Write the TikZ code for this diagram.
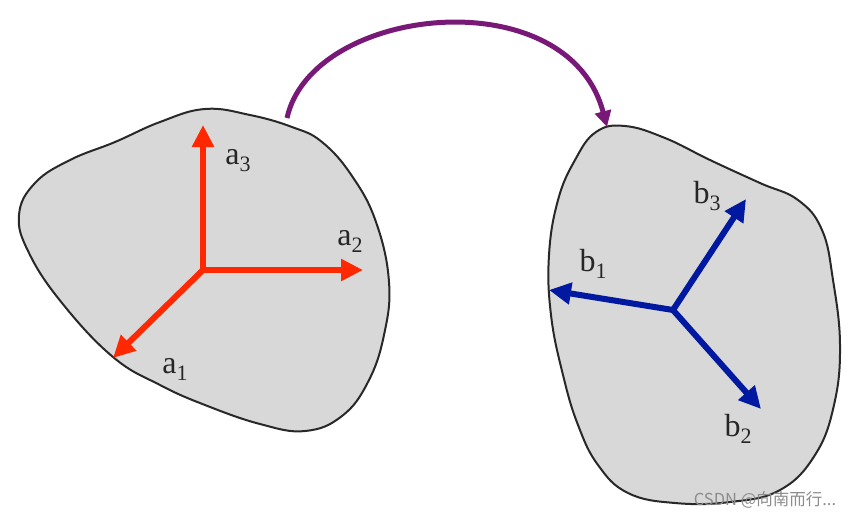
\documentclass[tikz,border=0pt]{standalone}
\usepackage{fontspec}
\setmainfont{Liberation Serif}
\newfontfamily\cjk{Noto Sans CJK SC}
\usetikzlibrary{arrows.meta}
\definecolor{vred}{RGB}{255,40,0}
\definecolor{vblue}{RGB}{0,25,160}
\definecolor{bodyfill}{RGB}{216,216,216}
\definecolor{bodyline}{RGB}{40,40,40}
\definecolor{arcpurple}{RGB}{120,25,120}
\newcommand{\veclab}[2]{{\fontsize{32}{32}\selectfont #1}\raisebox{-7pt}{\fontsize{22}{22}\selectfont #2}}
\tikzset{
  body/.style={draw=bodyline, fill=bodyfill, line width=2pt},
  redvec/.style={draw=vred, line width=6pt, -{Triangle[length=22pt,width=21pt]}},
  bluevec/.style={draw=vblue, line width=6pt, -{Triangle[length=22pt,width=21pt]}},
  lab/.style={inner sep=0pt, text=black!85},
  turn/.style={draw=arcpurple, line width=5pt, -{Triangle[length=16pt,width=16pt]}}
}
\begin{document}
\begin{tikzpicture}[x=1pt,y=-1pt]
\useasboundingbox (0,0) rectangle (866,520);
% left body
\draw[body] plot[smooth cycle, tension=0.7] coordinates {
 (19,215) (35,183) (70,160) (115,142) (160,122) (205,109) (250,115) (292,127) (322,142)
 (352,176) (376,222) (389,282) (384,335) (368,382) (342,416) (305,431)
 (260,424) (205,405) (160,385) (113,357) (62,303) (29,253)};
% right body
\draw[body] plot[smooth cycle, tension=0.7] coordinates {
 (596,132) (625,126) (665,138) (710,160) (760,183) (798,200) (822,230)
 (833,280) (840,345) (834,405) (815,455) (780,490) (730,502) (675,503)
 (628,493) (598,465) (578,425) (563,375) (551,315) (549,255) (558,200) (575,160)};
% frames
\coordinate (oa) at (203,270);
\coordinate (a1tip) at (113,358);
\coordinate (a2tip) at (363,270);
\coordinate (a3tip) at (203,125);
\draw[redvec] (oa) -- (a1tip);
\draw[redvec] (oa) -- (a2tip);
\draw[redvec] (oa) -- (a3tip);
\node[lab] (a1) at (175,369) {\veclab{a}{1}};
\node[lab] (a2) at (350,241) {\veclab{a}{2}};
\node[lab] (a3) at (238,161) {\veclab{a}{3}};
\coordinate (ob) at (673,310);
\coordinate (b1tip) at (549,290);
\coordinate (b2tip) at (761,409);
\coordinate (b3tip) at (746,199);
\draw[bluevec] (ob) -- (b1tip);
\draw[bluevec] (ob) -- (b2tip);
\draw[bluevec] (ob) -- (b3tip);
\node[lab] (b1) at (593,264) {\veclab{b}{1}};
\node[lab] (b2) at (738,429) {\veclab{b}{2}};
\node[lab] (b3) at (707,196) {\veclab{b}{3}};
% transformation arc
\coordinate (arcs) at (287,118);
\coordinate (arce) at (607,127);
\draw[turn] (arcs) .. controls (312,5) and (568,-22) .. (arce);
% watermark
\node[inner sep=0pt, text=black!45] (wm) at (765,500) {\cjk\fontsize{16.5}{16.5}\selectfont CSDN @向南而行...};
\end{tikzpicture}
\end{document}
